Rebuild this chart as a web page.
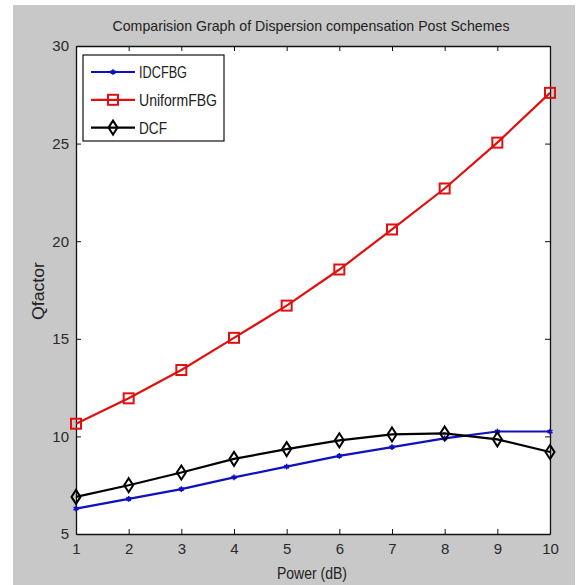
<!DOCTYPE html>
<html>
<head>
<meta charset="utf-8">
<script src="https://cdn.jsdelivr.net/npm/d3@7"></script>
<style>
  body { margin: 0; background: #fff; }
  svg { display: block; }
  text { font-family: 'Liberation Sans', Arial, sans-serif; fill: #222; }
</style>
</head>
<body>
<svg width="579" height="585"></svg>
<script>
const { select, scaleLinear, axisBottom, axisLeft, axisTop, axisRight, line, symbol, symbolAsterisk } = d3;

const power = [1, 2, 3, 4, 5, 6, 7, 8, 9, 10];
const idcfbg = [6.3, 6.8, 7.3, 7.9, 8.45, 9.0, 9.45, 9.9, 10.25, 10.25];
const uniformFbg = [10.65, 11.95, 13.4, 15.05, 16.7, 18.55, 20.6, 22.7, 25.05, 27.6];
const dcf = [6.9, 7.5, 8.15, 8.85, 9.35, 9.8, 10.1, 10.15, 9.85, 9.2];
const seriesNames = ['IDCFBG', 'UniformFBG', 'DCF'];
const xTicks = [1, 2, 3, 4, 5, 6, 7, 8, 9, 10];
const yTicks = [5, 10, 15, 20, 25, 30];

const svg = select('svg');
const width = +svg.attr('width');
const height = +svg.attr('height');

const plot = { left: 76, top: 46, right: 550, bottom: 534 };

// figure background
svg.append('rect')
    .attr('x', 13).attr('y', 5)
    .attr('width', width - 17).attr('height', height - 5)
    .style('fill', '#c8c8c8');

svg.append('rect')
    .attr('x', plot.left).attr('y', plot.top)
    .attr('width', plot.right - plot.left)
    .attr('height', plot.bottom - plot.top)
    .style('fill', '#fff');

const x = scaleLinear().domain([1, 10]).range([plot.left, plot.right]);
const y = scaleLinear().domain([5, 30]).range([plot.bottom, plot.top]);

const styleAxis = (g) => {
    g.select('.domain').attr('stroke', '#111').attr('stroke-width', 1.3);
    g.selectAll('.tick line').attr('stroke', '#111');
    g.selectAll('.tick text')
        .attr('font-size', 15)
        .attr('font-family', "'Liberation Sans', Arial, sans-serif")
        .style('fill', '#2a2a2a');
};

svg.append('g')
    .attr('transform', `translate(0,${plot.bottom})`)
    .call(axisBottom(x).tickValues(xTicks).tickSize(-5).tickPadding(9).tickSizeOuter(0))
    .call(styleAxis);
svg.append('g')
    .attr('transform', `translate(0,${plot.top})`)
    .call(axisTop(x).tickValues(xTicks).tickSize(-5).tickFormat('').tickSizeOuter(0))
    .call(styleAxis);
svg.append('g')
    .attr('transform', `translate(${plot.left},0)`)
    .call(axisLeft(y).tickValues(yTicks).tickSize(-5).tickPadding(7).tickSizeOuter(0))
    .call(styleAxis);
svg.append('g')
    .attr('transform', `translate(${plot.right},0)`)
    .call(axisRight(y).tickValues(yTicks).tickSize(-5).tickFormat('').tickSizeOuter(0))
    .call(styleAxis);

// series
const series = [
    { name: seriesNames[0], values: idcfbg, color: '#1010c0', marker: 'star', w: 48 },
    { name: seriesNames[1], values: uniformFbg, color: '#e01010', marker: 'square', w: 78 },
    { name: seriesNames[2], values: dcf, color: '#000', marker: 'diamond', w: 28 },
];

const drawMarker = (g, type, color) => {
    if (type === 'square') {
        g.append('rect')
            .attr('x', -5).attr('y', -5).attr('width', 10).attr('height', 10)
            .style('fill', 'none').attr('stroke', color).attr('stroke-width', 2);
    } else if (type === 'diamond') {
        g.append('path')
            .attr('d', 'M0,-7L4.5,0L0,7L-4.5,0Z')
            .style('fill', 'none').attr('stroke', color).attr('stroke-width', 2);
    } else {
        g.append('path')
            .attr('d', symbol(symbolAsterisk, 22)())
            .style('fill', 'none').attr('stroke', color).attr('stroke-width', 1.6);
    }
};

const lineGen = line().x((d, i) => x(power[i])).y((d) => y(d));

series.forEach((s) => {
    svg.append('path')
        .datum(s.values)
        .attr('d', lineGen)
        .style('fill', 'none')
        .attr('stroke', s.color)
        .attr('stroke-width', 2.2);
    svg.append('g')
        .selectAll('g')
        .data(s.values)
        .join('g')
        .attr('transform', (d, i) => `translate(${x(power[i])},${y(d)})`)
        .each(function () { drawMarker(select(this), s.marker, s.color); });
});

// legend
const legend = svg.append('g').attr('transform', 'translate(83,55)');
legend.append('rect')
    .attr('width', 141).attr('height', 86)
    .style('fill', '#fff').attr('stroke', '#111').attr('stroke-width', 1.2);
const item = legend.selectAll('g.item')
    .data(series)
    .join('g')
    .attr('class', 'item')
    .attr('transform', (d, i) => `translate(0,${17 + i * 27.8})`);
item.append('line')
    .attr('x1', 8).attr('x2', 52)
    .attr('stroke', (d) => d.color).attr('stroke-width', 2.2);
item.append('g')
    .attr('transform', 'translate(30,0)')
    .each(function (d) { drawMarker(select(this), d.marker, d.color); });
item.append('text')
    .attr('x', 56).attr('dy', '0.36em')
    .attr('font-size', 17)
    .attr('textLength', (d) => d.w)
    .attr('lengthAdjust', 'spacingAndGlyphs')
    .text((d) => d.name);

// title and labels
svg.append('text')
    .attr('x', (plot.left + plot.right) / 2 - 2).attr('y', 31)
    .attr('text-anchor', 'middle')
    .attr('font-size', 15)
    .attr('textLength', 397)
    .attr('lengthAdjust', 'spacingAndGlyphs')
    .text('Comparision Graph of Dispersion compensation Post Schemes');
svg.append('text')
    .attr('x', 277).attr('y', 579)
    .attr('font-size', 16)
    .attr('textLength', 70)
    .attr('lengthAdjust', 'spacingAndGlyphs')
    .text('Power (dB)');
svg.append('text')
    .attr('transform', `translate(44,320) rotate(-90)`)
    .attr('font-size', 16)
    .attr('textLength', 58)
    .attr('lengthAdjust', 'spacingAndGlyphs')
    .text('Qfactor');
</script>
</body>
</html>
